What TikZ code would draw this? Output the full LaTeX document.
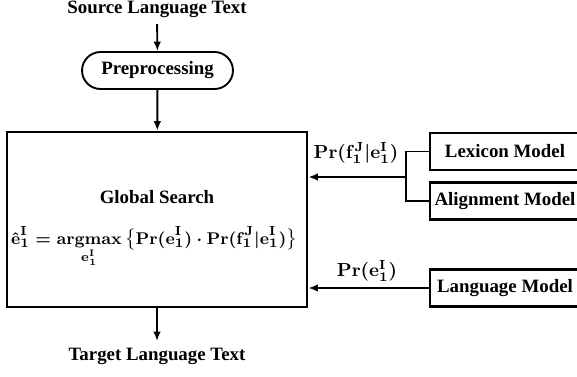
\documentclass[tikz,border=0pt]{standalone}
\usepackage{amsmath, amssymb}
\usepackage[no-math]{fontspec}
\setmainfont{Liberation Serif}
\usetikzlibrary{shapes.misc,arrows.meta}
\newcommand{\eI}{\mathbf{e}_{\mathbf{1}}^{\mathbf{I}}}
\newcommand{\fJ}{\mathbf{f}_{\mathbf{1}}^{\mathbf{J}}}

\begin{document}
\begin{tikzpicture}[x=0.53pt,y=-0.53pt,font=\bfseries\boldmath,
  box/.style={draw,line width=1.5pt,inner sep=0pt},
  model/.style={box,minimum width=79.5pt,minimum height=19.6pt},
  arr/.style={-{Latex[length=5pt,width=4pt]},line width=1pt}]
\useasboundingbox (0,0) rectangle (577,376);
\clip (0,0) rectangle (577,376);
%
\node (src) at (157,9) {Source Language Text};
\node[draw,rounded rectangle,line width=1pt,minimum width=80pt,minimum height=19.6pt,inner sep=0pt] (pre) at (157.5,70.5) {Preprocessing};
\node[box,minimum width=159pt,minimum height=92.7pt] (gs) at (157,219.5) {};
\node (gstitle) at (157,197) {Global Search};
\node[font=\bfseries\boldmath\fontsize{9.4}{11}\selectfont,inner sep=0pt] (gsform) at (154,247) {$\displaystyle \hat{\mathbf{e}}_{\mathbf{1}}^{\mathbf{I}} = \operatorname*{argmax}_{\eI}\, \bigl\{\mathbf{Pr}(\eI)\cdot\mathbf{Pr}(\fJ|\eI)\bigr\}$};
\node (tgt) at (157,356) {Target Language Text};
%
\node[model] (lex) at (505,151.5) {Lexicon Model};
\node[model] (ali) at (505,201) {Alignment Model};
\node[model] (lang) at (505,288) {Language Model};
\coordinate (jn) at (406,177);
%
\draw[arr] (src) -- (pre);
\draw[arr] (pre) -- (gs);
\draw[arr] (gs) -- (tgt);
\draw[line width=1pt] (lex.west) -| (jn) |- (ali.west);
\draw[arr] (jn) -- (gs.east |- jn);
\draw[arr] (lang.west) -- (gs.east |- lang.west);
%
\node (plex) at (356,153) {$\mathbf{Pr}(\fJ|\eI)$};
\node (plang) at (367,271) {$\mathbf{Pr}(\eI)$};
%
\end{tikzpicture}
\end{document}
